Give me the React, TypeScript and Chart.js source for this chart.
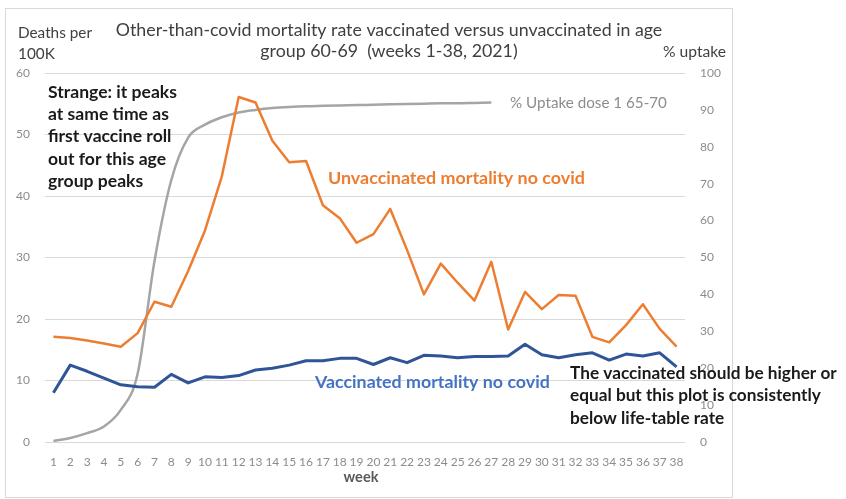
import React, { useEffect, useRef } from "react";
import { Chart, registerables } from "chart.js";

Chart.register(...registerables);

const weeks = ["1","2","3","4","5","6","7","8","9","10","11","12","13","14","15","16","17","18","19","20","21","22","23","24","25","26","27","28","29","30","31","32","33","34","35","36","37","38"];

const unvaccinated = [17.1, 16.9, 16.5, 16.0, 15.5, 17.7, 22.8, 22.0, 27.8, 34.4, 43.2, 56.1, 55.2, 49.0, 45.5, 45.7, 38.5, 36.4, 32.4, 33.8, 37.9, 31.2, 24.0, 29.0, 25.9, 23.0, 29.3, 18.3, 24.4, 21.6, 23.9, 23.8, 17.1, 16.2, 19.0, 22.4, 18.4, 15.5];

const vaccinated = [8.0, 12.5, 11.5, 10.4, 9.3, 9.0, 8.9, 11.0, 9.6, 10.6, 10.5, 10.8, 11.7, 12.0, 12.5, 13.2, 13.2, 13.6, 13.6, 12.6, 13.7, 12.9, 14.1, 14.0, 13.7, 13.9, 13.9, 14.0, 15.9, 14.2, 13.7, 14.2, 14.5, 13.3, 14.3, 14.0, 14.5, 12.2];

const uptake = [0.3, 1.1, 2.4, 4.2, 8.7, 18.5, 49, 71, 82.5, 86, 88, 89.3, 90, 90.5, 90.8, 91, 91.1, 91.2, 91.3, 91.4, 91.5, 91.6, 91.7, 91.8, 91.8, 91.9, 92.0, null, null, null, null, null, null, null, null, null, null, null];

const titleLines = ["Other-than-covid mortality rate vaccinated versus unvaccinated in age", "group 60-69  (weeks 1-38, 2021)"];
const leftAxisTitle = ["Deaths per", "100K"];
const rightAxisTitle = "% uptake";
const xAxisTitle = "week";
const noteLeft = ["Strange: it peaks", "at same time as", "first vaccine roll", "out for this age", "group peaks"];
const noteRight = ["The vaccinated should be higher or", "equal but this plot is consistently", "below life-table rate"];
const unvaxLabel = "Unvaccinated mortality no covid";
const vaxLabel = "Vaccinated mortality no covid";
const uptakeLabel = "% Uptake dose 1 65-70";

const FAMILY = "Lato, 'Open Sans', sans-serif";

function drawFit(
  ctx: CanvasRenderingContext2D,
  lines: string[],
  x: number,
  y: number,
  lineH: number,
  targetW: number,
  weight: string,
  color: string,
  align: CanvasTextAlign
) {
  ctx.font = `${weight} 100px ${FAMILY}`;
  let w = 0;
  for (const l of lines) w = Math.max(w, ctx.measureText(l).width);
  const size = (100 * targetW) / w;
  ctx.font = `${weight} ${size.toFixed(2)}px ${FAMILY}`;
  ctx.fillStyle = color;
  ctx.textAlign = align;
  ctx.textBaseline = "middle";
  lines.forEach((l, i) => ctx.fillText(l, x, y + i * lineH));
}

const textPlugin = {
  id: "texts",
  afterDraw(chart: any) {
    const ctx: CanvasRenderingContext2D = chart.ctx;
    ctx.save();
    ctx.strokeStyle = "#d9d9d9";
    ctx.lineWidth = 1;
    ctx.strokeRect(5.5, 8.5, 727, 489);
    drawFit(ctx, titleLines, 389, 30, 21, 547, "normal", "#404040", "center");
    drawFit(ctx, leftAxisTitle, 18, 33, 21, 74, "normal", "#404040", "left");
    drawFit(ctx, [rightAxisTitle], 726, 52, 0, 63, "normal", "#404040", "right");
    drawFit(ctx, [xAxisTitle], 361, 477, 0, 35, "bold", "#595959", "center");
    drawFit(ctx, noteLeft, 48, 92, 22.3, 129, "bold", "#1a1a1a", "left");
    drawFit(ctx, noteRight, 570, 373, 22.5, 267, "bold", "#1a1a1a", "left");
    drawFit(ctx, [unvaxLabel], 328, 178, 0, 257, "bold", "#ED7D31", "left");
    drawFit(ctx, [vaxLabel], 315, 382, 0, 235, "bold", "#4472C4", "left");
    drawFit(ctx, [uptakeLabel], 510, 103, 0, 157, "normal", "#8c8c8c", "left");
    ctx.restore();
  },
};

export default function App() {
  const ref = useRef<HTMLCanvasElement | null>(null);
  useEffect(() => {
    if (!ref.current) return;
    const chart = new Chart(ref.current, {
      type: "line",
      data: {
        labels: weeks,
        datasets: [
          {
            label: vaxLabel,
            data: vaccinated,
            borderColor: "#2F5597",
            borderWidth: 3,
            pointRadius: 0,
            tension: 0,
            yAxisID: "y",
            borderJoinStyle: "round",
          },
          {
            label: unvaxLabel,
            data: unvaccinated,
            borderColor: "#ED7D31",
            borderWidth: 2.5,
            pointRadius: 0,
            tension: 0,
            yAxisID: "y",
            borderJoinStyle: "round",
          },
          {
            label: uptakeLabel,
            data: uptake,
            borderColor: "#A5A5A5",
            borderWidth: 2.5,
            pointRadius: 0,
            cubicInterpolationMode: "monotone",
            spanGaps: false,
            yAxisID: "y1",
          },
        ],
      },
      options: {
        responsive: false,
        animation: false,
        layout: { padding: { left: 0, top: 73, right: 121, bottom: 0 } },
        plugins: { legend: { display: false }, tooltip: { enabled: false }, title: { display: false } },
        scales: {
          x: {
            type: "category",
            offset: true,
            grid: { display: false, drawTicks: false },
            border: { display: false },
            ticks: { autoSkip: false, maxRotation: 0, minRotation: 0, color: "#8c8c8c", font: { family: FAMILY, size: 12 }, padding: 13 },
            afterFit: (s: any) => { s.height = 57; },
          },
          y: {
            position: "left",
            min: 0,
            max: 60,
            ticks: { stepSize: 10, color: "#8c8c8c", font: { family: FAMILY, size: 12 }, padding: 15 },
            grid: { color: "#d9d9d9", lineWidth: 1, drawTicks: false },
            border: { display: false },
            afterFit: (s: any) => { s.width = 45; },
          },
          y1: {
            position: "right",
            min: 0,
            max: 100,
            ticks: { stepSize: 10, color: "#8c8c8c", font: { family: FAMILY, size: 12 }, padding: 15 },
            grid: { display: false, drawTicks: false },
            border: { display: false },
            afterFit: (s: any) => { s.width = 40; },
          },
        },
      },
      plugins: [textPlugin],
    });
    return () => chart.destroy();
  }, []);
  return (
    <div style={{ position: "absolute", left: 0, top: 0, width: 846, height: 499, background: "#fff" }}>
      <canvas ref={ref} width={846} height={499} style={{ display: "block" }} />
    </div>
  );
}
